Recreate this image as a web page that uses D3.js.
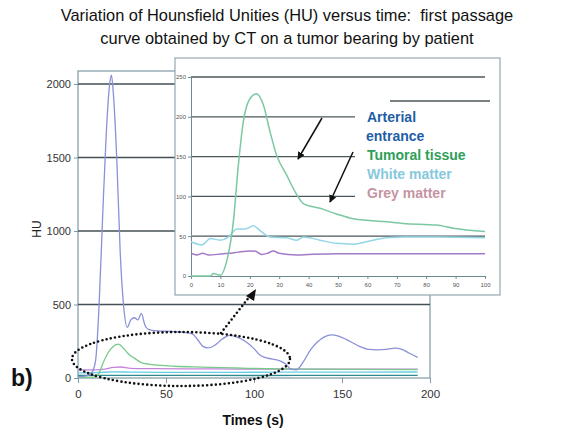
<!DOCTYPE html>
<html><head><meta charset="utf-8">
<script src="https://cdn.jsdelivr.net/npm/d3@7"></script>
<style>body{margin:0;background:#fff}svg{display:block;font-family:"Liberation Sans",Arial,sans-serif}</style>
</head><body>
<svg id="c" width="584" height="432"></svg>
<script>
// ---------- data ----------
const titleLines = ["Variation of Hounsfield Unities (HU) versus time:  first passage","curve obtained by CT on a tumor bearing by patient"];
const mainXTicks = [0,50,100,150,200];
const mainYTicks = [0,500,1000,1500,2000];
const insetXTicks = [0,10,20,30,40,50,60,70,80,90,100];
const insetYTicks = [0,50,100,150,200,250];
const legendLabels = ["Arterial","entrance","Tumoral tissue","White matter","Grey matter"];

// main chart: arterial entrance
const artT  = [0,5,8,10,12,14,16,18,19,20,22,24,26,28,30,32,34,36,38,40,45,50,55,60,65,68,71,74,78,82,86,90,95,100,103,106,110,114,118,121,124,128,132,136,140,144,148,152,156,160,165,170,175,180,184,188,193];
const artHU = [10,15,40,120,500,1100,1650,2000,2060,1950,1500,850,480,345,395,410,395,440,360,330,320,318,315,310,300,260,215,205,225,265,290,280,250,200,160,140,130,120,95,60,55,110,190,245,280,293,285,265,240,215,195,192,195,203,195,170,140];
// main chart: tumoral tissue
const tumT  = [0,8,10,12,14,17,20,23,26,29,32,36,40,46,55,70,90,107,130,160,193];
const tumHU = [5,5,10,35,95,170,215,230,200,160,135,105,95,87,80,74,68,63,60,58,57];
// main chart: grey matter
const greyT  = [0,10,15,20,24,30,40,60,80,100,120,150,193];
const greyHU = [55,55,60,72,75,66,64,62,62,60,60,60,60];
// main chart: white matter
const whiteT  = [0,10,20,30,50,80,120,160,193];
const whiteHU = [35,36,42,40,38,38,40,40,41];
// main chart: baseline series
const baseT  = [0,50,100,150,193];
const baseHU = [18,18,17,18,18];

// inset: tumoral tissue
const inTumT  = [0,6.6,7.6,10,12.1,14.4,16.1,17.8,20.1,22.3,24.6,26.9,29.1,32.5,36,38.2,43.9,49.5,55.2,60,66.5,72.2,83.5,89.2,100];
const inTumHU = [0,0,3,1,18,68,139,194,223,229,215,181,152,127,102,91,85,78,72,70,68,66,64,60,56];
// inset: white matter
const inWhiteT  = [0,3.7,6.6,10,12.8,15.6,18.5,21.3,23.5,26.9,32.5,36,38.2,43.9,49.5,55.2,60.8,66.5,72.2,83.5,100];
const inWhiteHU = [43,39,47,45,49,59,59,63,57,49,48,45,49,45,41,40,44,48,49,49,48];
// inset: grey matter
const inGreyT  = [0,2,4,6,10,13,16,20,22,24,26,28,30,33,36,40,50,60,100];
const inGreyHU = [28.5,26.5,28.5,26.5,27.5,28.5,30,31.5,31,27,28.5,31.4,28.5,27,26.4,27,28,28,28];

// ---------- drawing ----------
const svg = d3.select("#c");
const x = d3.scaleLinear().domain([0,200]).range([78,430]);
const y = d3.scaleLinear().domain([0,2000]).range([378,84]);

// titles
svg.selectAll("text.title").data(titleLines).enter().append("text")
  .attr("x",287).attr("y",(d,i)=>21+i*23).attr("text-anchor","middle")
  .style("white-space","pre")
  .attr("font-size",16.4).attr("fill","#111").text(d=>d);

// main frame
const axC = "#7f9aa6";
svg.append("rect").attr("x",x(0)).attr("y",71).attr("width",x(200)-x(0)).attr("height",y(0)-71)
  .attr("fill","none").attr("stroke",axC).attr("stroke-width",1.2);
// gridlines
svg.selectAll("line.g").data(mainYTicks.filter(d=>d>0)).enter().append("line")
  .attr("x1",x(0)).attr("x2",x(200)).attr("y1",d=>y(d)).attr("y2",d=>y(d))
  .attr("stroke","#445055").attr("stroke-width",1.3);
// y axis
const yAx = svg.append("g").attr("transform",`translate(${x(0)},0)`)
  .call(d3.axisLeft(y).tickValues(mainYTicks).tickSize(4).tickFormat(d3.format("d")));
yAx.select(".domain").remove();
yAx.selectAll("line").attr("stroke",axC);
yAx.selectAll("text").attr("font-size",11).attr("fill","#333").attr("font-family","Liberation Sans, Arial");
const xAx = svg.append("g").attr("transform",`translate(0,${y(0)})`)
  .call(d3.axisBottom(x).tickValues(mainXTicks).tickSize(5).tickPadding(7));
xAx.select(".domain").remove();
xAx.selectAll("line").attr("stroke",axC);
xAx.selectAll("text").attr("font-size",11.5).attr("fill","#333").attr("font-family","Liberation Sans, Arial");

svg.append("text").attr("transform","translate(41,229) rotate(-90)").attr("text-anchor","middle")
  .attr("font-size",12).attr("fill","#222").text("HU");
svg.append("text").attr("x",253).attr("y",425).attr("text-anchor","middle")
  .attr("font-size",14).attr("font-weight","bold").attr("fill","#111").text("Times (s)");
svg.append("text").attr("x",11).attr("y",386)
  .attr("font-size",23).attr("font-weight","bold").attr("fill","#111").text("b)");

const line = (xs,ys,tArr,vArr)=>d3.line().x((d,i)=>xs(tArr[i])).y(d=>ys(d)).curve(d3.curveMonotoneX)(vArr);
const mainSeries = [
  [baseT,baseHU,"#2f8a90"],
  [whiteT,whiteHU,"#66cde2"],
  [greyT,greyHU,"#c484dc"],
  [tumT,tumHU,"#78c98a"],
  [artT,artHU,"#8b90d8"]
];
mainSeries.forEach(s=>{
  svg.append("path").attr("d",line(x,y,s[0],s[1])).attr("fill","none")
    .attr("stroke",s[2]).attr("stroke-width",1.3);
});

// ---------- inset ----------
const ix = d3.scaleLinear().domain([0,100]).range([191,485]);
const iy = d3.scaleLinear().domain([0,250]).range([276,77]);
svg.append("rect").attr("x",175).attr("y",58).attr("width",325).attr("height",237)
  .attr("fill","#fff").attr("stroke","#93a8b0").attr("stroke-width",1.2);
// inset gridlines
const gridEnd = {250:485,200:355,150:355,100:355,50:485};
svg.selectAll("line.ig").data(insetYTicks.filter(d=>d>0)).enter().append("line")
  .attr("x1",ix(0)).attr("x2",d=>gridEnd[d]).attr("y1",d=>iy(d)).attr("y2",d=>iy(d))
  .attr("stroke","#4d575b").attr("stroke-width",1.3);
svg.append("line").attr("x1",390).attr("x2",490).attr("y1",101).attr("y2",101)
  .attr("stroke","#4d575b").attr("stroke-width",1.3);
// inset axes
const iyAx = svg.append("g").attr("transform",`translate(${ix(0)},0)`)
  .call(d3.axisLeft(iy).tickValues(insetYTicks).tickSize(3).tickPadding(2));
iyAx.select(".domain").attr("stroke","#6d8a92");
iyAx.selectAll("line").attr("stroke","#6d8a92");
iyAx.selectAll("text").attr("font-size",6).attr("fill","#555");
const ixAx = svg.append("g").attr("transform",`translate(0,${iy(0)})`)
  .call(d3.axisBottom(ix).tickValues(insetXTicks).tickSize(3).tickPadding(4));
ixAx.select(".domain").attr("stroke","#6d8a92");
ixAx.selectAll("line").attr("stroke","#6d8a92");
ixAx.selectAll("text").attr("font-size",6).attr("fill","#555");

const insetSeries = [
  [inGreyT,inGreyHU,"#a47ac8"],
  [inWhiteT,inWhiteHU,"#92d6e6"],
  [inTumT,inTumHU,"#7cc8a2"]
];
insetSeries.forEach(s=>{
  svg.append("path").attr("d",line(ix,iy,s[0],s[1])).attr("fill","none")
    .attr("stroke",s[2]).attr("stroke-width",1.5);
});

// legend text
const legColors = ["#1f5ea6","#1f5ea6","#2e9e58","#86c8dc","#c494a4"];
svg.selectAll("text.leg").data(legendLabels).enter().append("text")
  .attr("x",(d,i)=>i===1?366:367).attr("y",(d,i)=>122+i*19)
  .attr("font-size",14).attr("font-weight","bold").attr("fill",(d,i)=>legColors[i]).text(d=>d);

// arrows
const defs = svg.append("defs");
defs.append("marker").attr("id","ah").attr("viewBox","0 0 10 10").attr("refX",9).attr("refY",5)
  .attr("markerWidth",5).attr("markerHeight",5).attr("orient","auto")
  .append("path").attr("d","M0,0L10,5L0,10z").attr("fill","#111");
[[322,118,298,159],[353,152,330,202]].forEach(a=>{
  svg.append("line").attr("x1",a[0]).attr("y1",a[1]).attr("x2",a[2]).attr("y2",a[3])
    .attr("stroke","#111").attr("stroke-width",1.5).attr("marker-end","url(#ah)");
});

// dotted ellipse and dotted arrow
svg.append("ellipse").attr("cx",181).attr("cy",359).attr("rx",109).attr("ry",27)
  .attr("fill","none").attr("stroke","#111").attr("stroke-width",2.6)
  .attr("stroke-linecap","round").attr("stroke-dasharray","0 4.3");
svg.append("line").attr("x1",221).attr("y1",333).attr("x2",250).attr("y2",296)
  .attr("stroke","#111").attr("stroke-width",2.6).attr("stroke-linecap","round")
  .attr("stroke-dasharray","0 4.3");
svg.append("path").attr("d","M246,296 L256,289 L254,301 Z").attr("fill","#111");
</script>
</body></html>
